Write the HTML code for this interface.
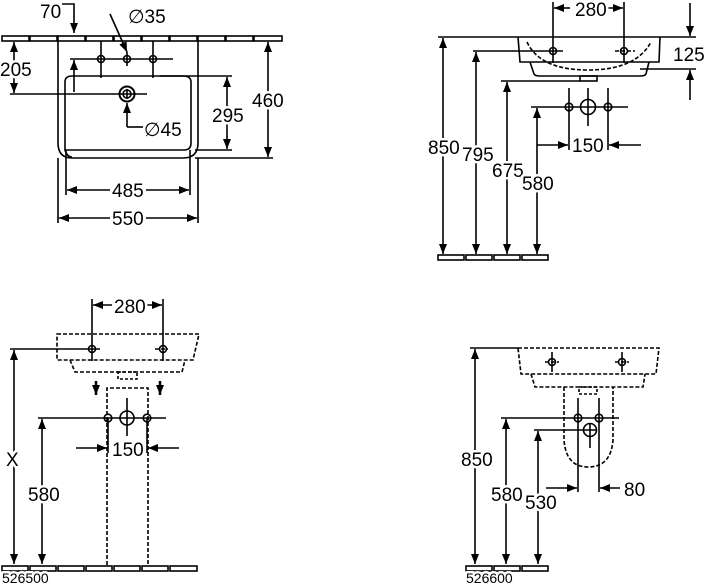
<!DOCTYPE html>
<html><head><meta charset="utf-8"><style>
html,body{margin:0;padding:0;background:#fff;}
svg{display:block}
text{font-family:"Liberation Sans","DejaVu Sans",sans-serif;font-size:19px;fill:#000;stroke:#fff;stroke-width:5px;paint-order:stroke fill;stroke-linejoin:round}
</style></head><body>
<svg width="705" height="585" viewBox="0 0 705 585" xmlns="http://www.w3.org/2000/svg">
<defs>
<marker id="a" viewBox="0 0 10 10" refX="10" refY="5" markerWidth="10" markerHeight="10" markerUnits="userSpaceOnUse" orient="auto-start-reverse"><path d="M0,1 L10,5 L0,9 z" fill="#000"/></marker>
</defs>
<g stroke="#000" stroke-width="1.6" fill="none">
<g fill="#fff">
<rect x="2" y="36" width="27" height="5"/><rect x="30" y="36" width="27" height="5"/><rect x="58" y="36" width="27" height="5"/><rect x="86" y="36" width="27" height="5"/><rect x="114" y="36" width="27" height="5"/><rect x="142" y="36" width="27" height="5"/><rect x="170" y="36" width="27" height="5"/><rect x="198" y="36" width="27" height="5"/><rect x="226" y="36" width="27" height="5"/><rect x="254" y="36" width="28" height="5"/>
</g>
<path d="M58,41 V143 Q58,158 72,158 H183 Q198,158 198,143 V41"/>
<path d="M65,150 V82 Q65,76 72,76 H183 Q191,76 191,82 V143 Q191,150 184,150 Z"/>
<path d="M65,150 Q67,157 72,157"/>
<line x1="70" y1="59" x2="173" y2="59"/>
<line x1="101" y1="41" x2="101" y2="78"/><line x1="153" y1="41" x2="153" y2="78"/>
<circle cx="101" cy="59" r="3.5"/><circle cx="127" cy="59" r="3.5"/><circle cx="153" cy="59" r="3.5"/>
<line x1="127" y1="52" x2="127" y2="66"/>
<line x1="10" y1="94" x2="147" y2="94"/>
<circle cx="127" cy="94" r="7.5" stroke-width="2"/><circle cx="127" cy="94" r="4"/><line x1="127" y1="89" x2="127" y2="99"/>
<path d="M62,4 H74 V33" marker-end="url(#a)"/>
<line x1="74" y1="92" x2="74" y2="60" marker-end="url(#a)"/>
<path d="M110,14 L127,52" marker-end="url(#a)"/>
<path d="M127,127 V103" marker-end="url(#a)"/>
<line x1="127" y1="127" x2="143" y2="127"/>
<line x1="14" y1="42" x2="14" y2="93" marker-start="url(#a)" marker-end="url(#a)"/>
<line x1="160" y1="76" x2="232" y2="76"/><line x1="195" y1="150" x2="232" y2="150"/>
<line x1="227" y1="77" x2="227" y2="149" marker-start="url(#a)" marker-end="url(#a)"/>
<line x1="195" y1="158" x2="273" y2="158"/>
<line x1="268" y1="42" x2="268" y2="157" marker-start="url(#a)" marker-end="url(#a)"/>
<line x1="66" y1="150" x2="66" y2="195"/><line x1="190" y1="150" x2="190" y2="195"/>
<line x1="58" y1="158" x2="58" y2="223"/><line x1="198" y1="158" x2="198" y2="223"/>
<line x1="67" y1="190" x2="110" y2="190" marker-start="url(#a)"/><line x1="146" y1="190" x2="189" y2="190" marker-end="url(#a)"/>
<line x1="59" y1="218" x2="110" y2="218" marker-start="url(#a)"/><line x1="146" y1="218" x2="197" y2="218" marker-end="url(#a)"/>
</g>
<text x="40" y="18">70</text><text x="128" y="23">∅35</text><text x="0" y="76">205</text>
<text x="144" y="136">∅45</text><text x="212" y="122">295</text><text x="252" y="107">460</text>
<text x="112" y="197">485</text><text x="112" y="225">550</text>

<g stroke="#000" stroke-width="1.6" fill="none">
<line x1="438" y1="37" x2="660" y2="37"/>
<path d="M518,37 L520,62 H659 L660,37"/>
<path d="M530,62 L534,74 Q535,76 540,76 H640 Q645,76 646,74 L649,62"/>
<rect x="580" y="76" width="17" height="5"/>
<path d="M527,42 Q540,70 588,70 Q636,70 651,42" stroke-dasharray="4,2"/>
<line x1="473" y1="51" x2="563" y2="51"/>
<line x1="615" y1="51" x2="635" y2="51" stroke-dasharray="4,2"/>
<circle cx="553" cy="51" r="3.5"/><circle cx="624" cy="51" r="3.5"/>
<line x1="553" y1="2" x2="553" y2="63"/><line x1="624" y1="2" x2="624" y2="63"/>
<line x1="554" y1="8" x2="570" y2="8" marker-start="url(#a)"/><line x1="606" y1="8" x2="623" y2="8" marker-end="url(#a)"/>
<line x1="690" y1="3" x2="690" y2="36" marker-end="url(#a)"/>
<line x1="640" y1="69" x2="696" y2="69"/>
<line x1="690" y1="100" x2="690" y2="70" marker-end="url(#a)"/>
<line x1="660" y1="37" x2="696" y2="37"/>
<line x1="501" y1="81" x2="580" y2="81"/>
<line x1="443" y1="38" x2="443" y2="254" marker-start="url(#a)" marker-end="url(#a)"/>
<line x1="476" y1="52" x2="476" y2="254" marker-start="url(#a)" marker-end="url(#a)"/>
<line x1="507" y1="82" x2="507" y2="254" marker-start="url(#a)" marker-end="url(#a)"/>
<line x1="537" y1="108" x2="537" y2="254" marker-start="url(#a)" marker-end="url(#a)"/>
<line x1="531" y1="107" x2="628" y2="107"/>
<circle cx="569" cy="107" r="3.8"/><circle cx="608" cy="107" r="3.8"/><circle cx="588" cy="107" r="7.5"/>
<line x1="569" y1="88" x2="569" y2="150"/><line x1="608" y1="88" x2="608" y2="150"/><line x1="588" y1="88" x2="588" y2="126"/>
<line x1="537" y1="145" x2="568" y2="145" marker-end="url(#a)"/><line x1="641" y1="145" x2="609" y2="145" marker-end="url(#a)"/>
<g fill="#fff"><rect x="438" y="255" width="26" height="5"/><rect x="466" y="255" width="26" height="5"/><rect x="494" y="255" width="26" height="5"/><rect x="522" y="255" width="26" height="5"/></g>
</g>
<text x="575" y="16">280</text><text x="673" y="61">125</text><text x="428" y="154">850</text>
<text x="462" y="161">795</text><text x="492" y="177">675</text><text x="522" y="190">580</text><text x="572" y="152">150</text>

<g stroke="#000" stroke-width="1.6" fill="none">
<path d="M57,334 H199 L193,360 H57 Z" stroke-dasharray="4,2"/>
<path d="M70,360 L75,372 H182 L185,360" stroke-dasharray="4,2"/>
<rect x="118" y="372" width="19" height="7" stroke-dasharray="3,2"/>
<path d="M107,565 V388 H148 V565" stroke-dasharray="4,2"/>
<line x1="10" y1="349" x2="100" y2="349"/>
<line x1="155" y1="349" x2="168" y2="349" stroke-dasharray="4,2"/>
<circle cx="92" cy="349" r="3.5"/><circle cx="163" cy="349" r="3.5"/>
<line x1="92" y1="299" x2="92" y2="361"/><line x1="163" y1="299" x2="163" y2="361"/>
<line x1="93" y1="305" x2="112" y2="305" marker-start="url(#a)"/><line x1="145" y1="305" x2="162" y2="305" marker-end="url(#a)"/>
<line x1="14" y1="350" x2="14" y2="564" marker-start="url(#a)" marker-end="url(#a)"/>
<line x1="38" y1="418" x2="166" y2="418"/>
<line x1="42" y1="419" x2="42" y2="564" marker-start="url(#a)" marker-end="url(#a)"/>
<circle cx="108" cy="418" r="3.8"/><circle cx="147" cy="418" r="3.8"/><circle cx="127" cy="418" r="7"/>
<line x1="108" y1="418" x2="108" y2="453"/><line x1="147" y1="418" x2="147" y2="453"/><line x1="127" y1="398" x2="127" y2="436"/>
<line x1="76" y1="448" x2="107" y2="448" marker-end="url(#a)"/><line x1="179" y1="448" x2="148" y2="448" marker-end="url(#a)"/>
<line x1="96" y1="381" x2="96" y2="395" stroke-width="2.5" marker-end="url(#a)"/>
<line x1="160" y1="381" x2="160" y2="395" stroke-width="2.5" marker-end="url(#a)"/>
<g fill="#fff"><rect x="2" y="566" width="26" height="5"/><rect x="30" y="566" width="26" height="5"/><rect x="58" y="566" width="26" height="5"/><rect x="86" y="566" width="26" height="5"/><rect x="114" y="566" width="26" height="5"/><rect x="142" y="566" width="26" height="5"/><rect x="170" y="566" width="27" height="5"/></g>
</g>
<text x="114" y="313">280</text><text x="6" y="466">X</text><text x="28" y="501">580</text><text x="112" y="456">150</text>
<text x="2" y="583" style="font-size:14px">526500</text>

<g stroke="#000" stroke-width="1.6" fill="none">
<path d="M518,348 H659 L656,374 H521 Z" stroke-dasharray="4,2"/>
<path d="M531,374 L535,387 H643 L645,374" stroke-dasharray="4,2"/>
<rect x="579" y="387" width="18" height="7" stroke-dasharray="3,2"/>
<path d="M564,387 V440 Q566,467 588,467 Q611,467 613,440 V387" stroke-dasharray="4,2"/>
<line x1="470" y1="348" x2="518" y2="348"/>
<line x1="545" y1="362" x2="559" y2="362" stroke-dasharray="4,2"/><line x1="615" y1="362" x2="629" y2="362" stroke-dasharray="4,2"/>
<circle cx="552" cy="362" r="3.5"/><circle cx="622" cy="362" r="3.5"/>
<line x1="552" y1="352" x2="552" y2="372"/><line x1="622" y1="352" x2="622" y2="372"/>
<line x1="501" y1="418" x2="619" y2="418"/>
<line x1="534" y1="430" x2="596" y2="430"/>
<circle cx="578" cy="418" r="3.8"/><circle cx="599" cy="418" r="3.8"/><circle cx="590" cy="430" r="6.5"/>
<line x1="578" y1="398" x2="578" y2="492"/><line x1="599" y1="398" x2="599" y2="492"/><line x1="590" y1="424" x2="590" y2="448"/>
<line x1="546" y1="488" x2="577" y2="488" marker-end="url(#a)"/><line x1="620" y1="488" x2="600" y2="488" marker-end="url(#a)"/>
<line x1="475" y1="349" x2="475" y2="564" marker-start="url(#a)" marker-end="url(#a)"/>
<line x1="506" y1="419" x2="506" y2="564" marker-start="url(#a)" marker-end="url(#a)"/>
<line x1="538" y1="431" x2="538" y2="564" marker-start="url(#a)" marker-end="url(#a)"/>
<g fill="#fff"><rect x="466" y="566" width="26" height="5"/><rect x="494" y="566" width="26" height="5"/><rect x="522" y="566" width="26" height="5"/></g>
</g>
<text x="461" y="466">850</text><text x="491" y="501">580</text><text x="525" y="509">530</text><text x="624" y="496">80</text>
<text x="466" y="583" style="font-size:14px">526600</text>
</svg>
</body></html>
